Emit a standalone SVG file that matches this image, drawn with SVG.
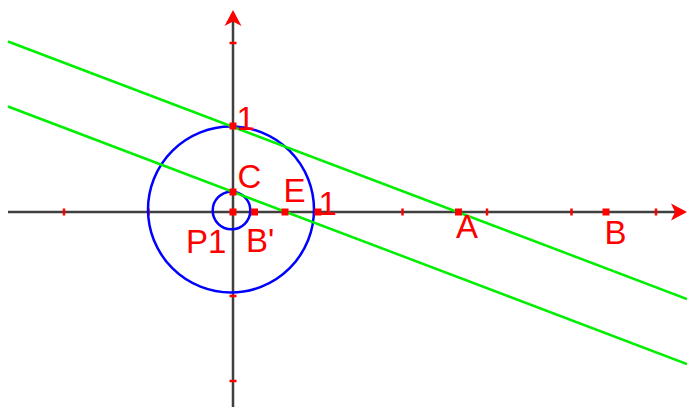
<svg xmlns="http://www.w3.org/2000/svg" width="687" height="407" viewBox="0 0 687 407">
<style>
.axis{stroke:#404040;stroke-width:2.5;fill:none}
.tick{stroke:#ff0000;stroke-width:2.5}
.circ{stroke:#0000ff;stroke-width:2.5;fill:none}
.gl{stroke:#00ee00;stroke-width:2.5;fill:none}
.pt{fill:#ff0000}
.arr{fill:#ff0000}
text{font-family:"Liberation Sans",Arial,sans-serif;font-size:33px;fill:#ff0000}
</style>
<rect width="687" height="407" fill="#ffffff"/>
<g id="connectors">
<g id="axes">
<line class="axis" x1="8" y1="212" x2="678" y2="212"/>
<line class="axis" x1="233" y1="407" x2="233" y2="18"/>
<polygon class="arr" points="687,212 671,203.5 675,212 671,220.5"/>
<polygon class="arr" points="233,10 224.5,26 233,21.5 241.5,26"/>
<g id="ticks">
<line class="tick" x1="64" y1="208.5" x2="64" y2="215.5"/>
<line class="tick" x1="148.5" y1="208.5" x2="148.5" y2="215.5"/>
<line class="tick" x1="402.5" y1="208.5" x2="402.5" y2="215.5"/>
<line class="tick" x1="487" y1="208.5" x2="487" y2="215.5"/>
<line class="tick" x1="571.5" y1="208.5" x2="571.5" y2="215.5"/>
<line class="tick" x1="656" y1="208.5" x2="656" y2="215.5"/>
<line class="tick" x1="229.5" y1="43" x2="236.5" y2="43"/>
<line class="tick" x1="229.5" y1="296" x2="236.5" y2="296"/>
<line class="tick" x1="229.5" y1="381" x2="236.5" y2="381"/>
</g>
</g>
<g id="circles">
<circle class="circ" cx="231" cy="209.5" r="83"/>
<circle class="circ" cx="231.5" cy="210.5" r="18.8"/>
</g>
<g id="lines">
<line class="gl" x1="8" y1="41.5" x2="687" y2="299"/>
<line class="gl" x1="8" y1="106.5" x2="687" y2="364"/>
</g>
</g>
<g id="node-O"><rect class="pt" x="229.5" y="208.5" width="7" height="7"/><text x="186" y="252.7">P1</text></g>
<g id="node-Y1"><rect class="pt" x="229.5" y="122.5" width="7" height="7"/><text x="236.5" y="129.5">1</text></g>
<g id="node-C"><rect class="pt" x="229.5" y="188.5" width="7" height="7"/><text x="237.5" y="188">C</text></g>
<g id="node-Bp"><rect class="pt" x="251" y="208.5" width="7" height="7"/><text x="246" y="251.7">B'</text></g>
<g id="node-E"><rect class="pt" x="281.5" y="208.5" width="7" height="7"/><text x="283.5" y="201.5">E</text></g>
<g id="node-X1"><rect class="pt" x="314.5" y="208.5" width="7" height="7"/><text x="318.5" y="215">1</text></g>
<g id="node-A"><rect class="pt" x="455" y="208.5" width="7" height="7"/><text x="456" y="237.5">A</text></g>
<g id="node-B"><rect class="pt" x="602.5" y="208.5" width="7" height="7"/><text x="604.5" y="243.5">B</text></g>
</svg>
